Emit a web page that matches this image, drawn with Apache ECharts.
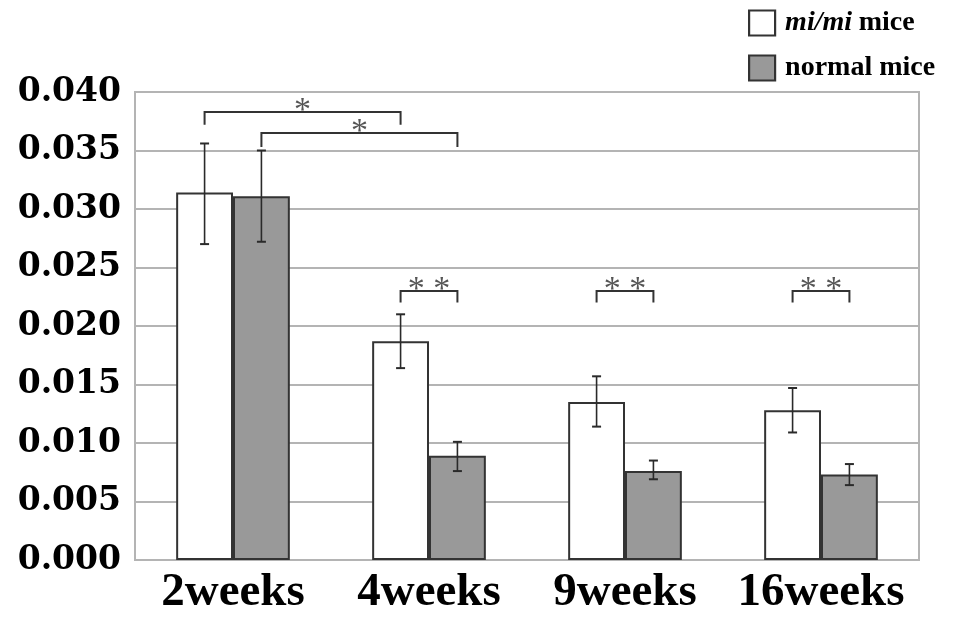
<!DOCTYPE html>
<html><head><meta charset="utf-8">
<script src="https://cdn.jsdelivr.net/npm/echarts@6/dist/echarts.min.js"></script>
<style>html,body{margin:0;padding:0;background:#fff}#c{width:953px;height:617px}</style>
</head><body><div id="c"></div>
<script>
const categories = ['2weeks', '4weeks', '9weeks', '16weeks'];
const seriesNames = ['mi/mi mice', 'normal mice'];
const mimiMean = [0.0314, 0.0187, 0.0135, 0.0128];
const mimiErrLow = [0.0270, 0.0164, 0.0114, 0.0109];
const mimiErrHigh = [0.0356, 0.0210, 0.0157, 0.0147];
const normalMean = [0.0311, 0.0089, 0.0076, 0.0073];
const normalErrLow = [0.0272, 0.0076, 0.0069, 0.0064];
const normalErrHigh = [0.0350, 0.0101, 0.0085, 0.0082];
const yMin = 0, yMax = 0.040, yStep = 0.005;
// significance brackets: [category, series] endpoints, level, foot, marks
const bracketFrom = [[0, 0], [0, 1], [1, 0], [2, 0], [3, 0]];
const bracketTo = [[1, 0], [1, 1], [1, 1], [2, 1], [3, 1]];
const bracketLevel = [0.0383, 0.0365, 0.0230, 0.0230, 0.0230];
const bracketFoot = [0.0372, 0.0353, 0.0220, 0.0220, 0.0220];
const bracketMark = ['*', '*', '* *', '* *', '* *'];

const GAP = 0.42;
function barOffset(api, ser) {
  const band = api.size([1, 0])[0];
  const bw = band * (1 - GAP) / 2;
  return ser === 0 ? -bw / 2 : bw / 2;
}

function errSeries(ser, lows, highs) {
  return {
    type: 'custom', z: 5, silent: true,
    data: categories.map((c, i) => [i, lows[i], highs[i]]),
    encode: { x: 0, y: [1, 2] },
    renderItem: function (params, api) {
      const i = api.value(0);
      const off = barOffset(api, ser);
      const lo = api.coord([i, api.value(1)]);
      const hi = api.coord([i, api.value(2)]);
      const x = lo[0] + off;
      const cw = 4.5;
      const st = { stroke: '#2a2a2a', lineWidth: 1.6 };
      return { type: 'group', children: [
        { type: 'line', shape: { x1: x, y1: lo[1], x2: x, y2: hi[1] }, style: st },
        { type: 'line', shape: { x1: x - cw, y1: lo[1], x2: x + cw, y2: lo[1] }, style: { stroke: '#2a2a2a', lineWidth: 2 } },
        { type: 'line', shape: { x1: x - cw, y1: hi[1], x2: x + cw, y2: hi[1] }, style: { stroke: '#2a2a2a', lineWidth: 2 } }
      ] };
    }
  };
}

const bracketData = bracketFrom.map((f, k) => [f[0], f[1], bracketTo[k][0], bracketTo[k][1], bracketLevel[k], bracketFoot[k], k]);

const chart = echarts.init(document.getElementById('c'), null, { renderer: 'canvas' });
chart.setOption({
  animation: false,
  backgroundColor: '#ffffff',
  grid: { left: 135, right: 34, top: 92, bottom: 57, show: true, borderColor: '#b4b4b4', borderWidth: 2, backgroundColor: 'transparent' },
  legend: {
    orient: 'vertical', left: 748, top: 9, padding: 0, itemWidth: 26, itemHeight: 25, itemGap: 17,
    icon: 'rect',
    data: seriesNames,
    itemStyle: { borderWidth: 2.2 },
    formatter: function (n) { return n === 'mi/mi mice' ? '{i|mi/mi}  {b|mice}' : '{b|' + n + '}'; },
    textStyle: {
      color: '#000', padding: [0, 0, 0, 5], lineHeight: 25,
      rich: {
        i: { fontFamily: 'Liberation Serif', fontWeight: 'bold', fontStyle: 'italic', fontSize: 28, lineHeight: 25, color: '#000' },
        b: { fontFamily: 'Liberation Serif', fontWeight: 'bold', fontSize: 28, lineHeight: 25, color: '#000' }
      }
    }
  },
  xAxis: {
    type: 'category', data: categories,
    axisLine: { show: true, lineStyle: { color: '#b4b4b4', width: 2 } },
    axisTick: { show: false },
    axisLabel: { interval: 0, hideOverlap: false, margin: 9, color: '#000', fontFamily: 'Liberation Serif', fontWeight: 'bold', fontSize: 47 }
  },
  yAxis: {
    type: 'value', min: yMin, max: yMax, interval: yStep,
    axisLine: { show: true, lineStyle: { color: '#b4b4b4', width: 2 } },
    axisTick: { show: false },
    splitLine: { show: true, lineStyle: { color: '#b4b4b4', width: 2 } },
    axisLabel: { margin: 14, color: '#000', fontFamily: 'DejaVu Serif', fontWeight: 'bold', fontSize: 33,
      formatter: v => v.toFixed(3) }
  },
  series: [
    { name: seriesNames[0], type: 'bar', data: mimiMean, barGap: '0%', barCategoryGap: (GAP * 100) + '%',
      itemStyle: { color: '#ffffff', borderColor: '#333333', borderWidth: 2 } },
    { name: seriesNames[1], type: 'bar', data: normalMean, barGap: '0%', barCategoryGap: (GAP * 100) + '%',
      itemStyle: { color: '#999999', borderColor: '#333333', borderWidth: 2 } },
    errSeries(0, mimiErrLow, mimiErrHigh),
    errSeries(1, normalErrLow, normalErrHigh),
    {
      type: 'custom', z: 6, silent: true,
      data: bracketData,
      encode: { x: 0, y: 4 },
      renderItem: function (params, api) {
        const c1 = api.value(0), s1 = api.value(1), c2 = api.value(2), s2 = api.value(3);
        const lev = api.value(4), foot = api.value(5), k = api.value(6);
        const p1 = api.coord([c1, lev]);
        const p2 = api.coord([c2, lev]);
        const pf = api.coord([c1, foot]);
        const x1 = p1[0] + barOffset(api, s1);
        const x2 = p2[0] + barOffset(api, s2);
        const y = p1[1], yf = pf[1];
        return { type: 'group', children: [
          { type: 'polyline', shape: { points: [[x1, yf], [x1, y], [x2, y], [x2, yf]] },
            style: { stroke: '#333', lineWidth: 2, fill: null } },
          { type: 'text', style: { text: bracketMark[k], x: (x1 + x2) / 2, y: y + 16, align: 'center', verticalAlign: 'bottom',
            font: '34px "Liberation Serif"', fill: '#555' } }
        ] };
      }
    }
  ]
});
</script>
</body></html>
